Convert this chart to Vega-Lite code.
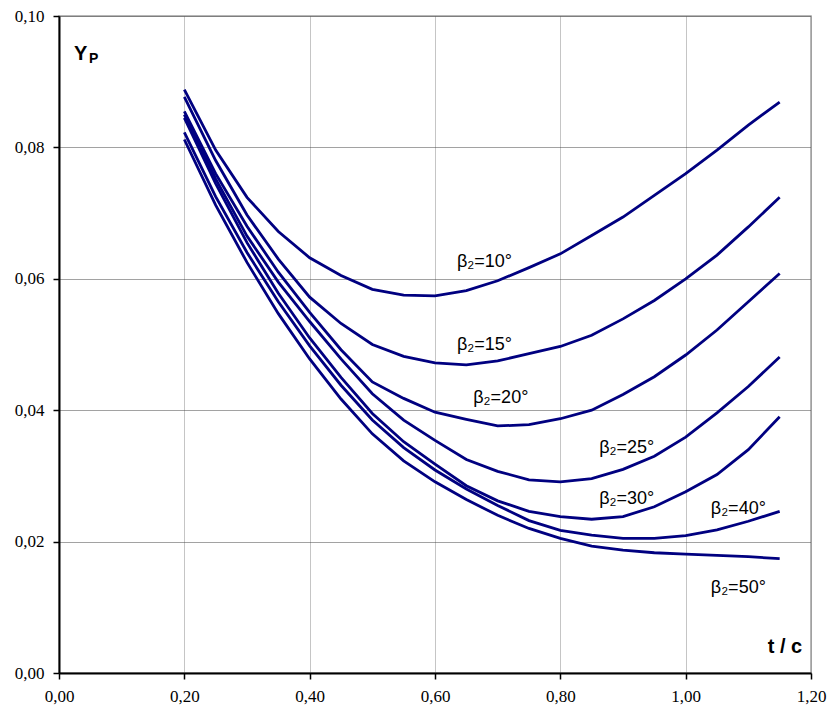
{
  "$schema": "https://vega.github.io/schema/vega-lite/v6.json",
  "width": 752,
  "height": 657,
  "autosize": {"type": "none"},
  "padding": {"left": 59, "top": 16, "right": 18, "bottom": 43},
  "background": "white",
  "config": {
    "view": {"stroke": "#a0a0a0", "strokeWidth": 1.5},
    "axis": {
      "labelFont": "Liberation Serif, DejaVu Serif, serif",
      "labelFontSize": 17,
      "labelColor": "black",
      "domainColor": "black",
      "domainWidth": 2,
      "tickColor": "black",
      "tickWidth": 1.5,
      "tickSize": 6,
      "title": null
    }
  },
  "datasets": {
    "curves": [
      {"b": "10", "x": 0.20, "y": 0.0888}, {"b": "10", "x": 0.25, "y": 0.0796}, {"b": "10", "x": 0.30, "y": 0.0724}, {"b": "10", "x": 0.35, "y": 0.0672}, {"b": "10", "x": 0.40, "y": 0.0632}, {"b": "10", "x": 0.45, "y": 0.0605}, {"b": "10", "x": 0.50, "y": 0.0584}, {"b": "10", "x": 0.55, "y": 0.0575}, {"b": "10", "x": 0.60, "y": 0.0574}, {"b": "10", "x": 0.65, "y": 0.0582}, {"b": "10", "x": 0.70, "y": 0.0597}, {"b": "10", "x": 0.75, "y": 0.0617}, {"b": "10", "x": 0.80, "y": 0.0638}, {"b": "10", "x": 0.85, "y": 0.0666}, {"b": "10", "x": 0.90, "y": 0.0694}, {"b": "10", "x": 0.95, "y": 0.0727}, {"b": "10", "x": 1.00, "y": 0.0760}, {"b": "10", "x": 1.05, "y": 0.0796}, {"b": "10", "x": 1.10, "y": 0.0834}, {"b": "10", "x": 1.15, "y": 0.0869},
      {"b": "15", "x": 0.20, "y": 0.0877}, {"b": "15", "x": 0.25, "y": 0.0780}, {"b": "15", "x": 0.30, "y": 0.0697}, {"b": "15", "x": 0.35, "y": 0.0630}, {"b": "15", "x": 0.40, "y": 0.0572}, {"b": "15", "x": 0.45, "y": 0.0532}, {"b": "15", "x": 0.50, "y": 0.0500}, {"b": "15", "x": 0.55, "y": 0.0482}, {"b": "15", "x": 0.60, "y": 0.0472}, {"b": "15", "x": 0.65, "y": 0.0469}, {"b": "15", "x": 0.70, "y": 0.0475}, {"b": "15", "x": 0.75, "y": 0.0486}, {"b": "15", "x": 0.80, "y": 0.0497}, {"b": "15", "x": 0.85, "y": 0.0514}, {"b": "15", "x": 0.90, "y": 0.0539}, {"b": "15", "x": 0.95, "y": 0.0567}, {"b": "15", "x": 1.00, "y": 0.0600}, {"b": "15", "x": 1.05, "y": 0.0636}, {"b": "15", "x": 1.10, "y": 0.0679}, {"b": "15", "x": 1.15, "y": 0.0724},
      {"b": "20", "x": 0.20, "y": 0.0855}, {"b": "20", "x": 0.25, "y": 0.0760}, {"b": "20", "x": 0.30, "y": 0.0680}, {"b": "20", "x": 0.35, "y": 0.0610}, {"b": "20", "x": 0.40, "y": 0.0549}, {"b": "20", "x": 0.45, "y": 0.0492}, {"b": "20", "x": 0.50, "y": 0.0443}, {"b": "20", "x": 0.55, "y": 0.0418}, {"b": "20", "x": 0.60, "y": 0.0397}, {"b": "20", "x": 0.65, "y": 0.0386}, {"b": "20", "x": 0.70, "y": 0.0376}, {"b": "20", "x": 0.75, "y": 0.0378}, {"b": "20", "x": 0.80, "y": 0.0387}, {"b": "20", "x": 0.85, "y": 0.0400}, {"b": "20", "x": 0.90, "y": 0.0424}, {"b": "20", "x": 0.95, "y": 0.0451}, {"b": "20", "x": 1.00, "y": 0.0484}, {"b": "20", "x": 1.05, "y": 0.0522}, {"b": "20", "x": 1.10, "y": 0.0565}, {"b": "20", "x": 1.15, "y": 0.0608},
      {"b": "25", "x": 0.20, "y": 0.0850}, {"b": "25", "x": 0.25, "y": 0.0752}, {"b": "25", "x": 0.30, "y": 0.0665}, {"b": "25", "x": 0.35, "y": 0.0595}, {"b": "25", "x": 0.40, "y": 0.0535}, {"b": "25", "x": 0.45, "y": 0.0478}, {"b": "25", "x": 0.50, "y": 0.0425}, {"b": "25", "x": 0.55, "y": 0.0385}, {"b": "25", "x": 0.60, "y": 0.0354}, {"b": "25", "x": 0.65, "y": 0.0325}, {"b": "25", "x": 0.70, "y": 0.0307}, {"b": "25", "x": 0.75, "y": 0.0294}, {"b": "25", "x": 0.80, "y": 0.0291}, {"b": "25", "x": 0.85, "y": 0.0296}, {"b": "25", "x": 0.90, "y": 0.0310}, {"b": "25", "x": 0.95, "y": 0.0330}, {"b": "25", "x": 1.00, "y": 0.0359}, {"b": "25", "x": 1.05, "y": 0.0396}, {"b": "25", "x": 1.10, "y": 0.0436}, {"b": "25", "x": 1.15, "y": 0.0481},
      {"b": "30", "x": 0.20, "y": 0.0845}, {"b": "30", "x": 0.25, "y": 0.0745}, {"b": "30", "x": 0.30, "y": 0.0655}, {"b": "30", "x": 0.35, "y": 0.0578}, {"b": "30", "x": 0.40, "y": 0.0510}, {"b": "30", "x": 0.45, "y": 0.0450}, {"b": "30", "x": 0.50, "y": 0.0395}, {"b": "30", "x": 0.55, "y": 0.0352}, {"b": "30", "x": 0.60, "y": 0.0318}, {"b": "30", "x": 0.65, "y": 0.0285}, {"b": "30", "x": 0.70, "y": 0.0262}, {"b": "30", "x": 0.75, "y": 0.0246}, {"b": "30", "x": 0.80, "y": 0.0238}, {"b": "30", "x": 0.85, "y": 0.0234}, {"b": "30", "x": 0.90, "y": 0.0238}, {"b": "30", "x": 0.95, "y": 0.0253}, {"b": "30", "x": 1.00, "y": 0.0276}, {"b": "30", "x": 1.05, "y": 0.0302}, {"b": "30", "x": 1.10, "y": 0.0340}, {"b": "30", "x": 1.15, "y": 0.0390},
      {"b": "40", "x": 0.20, "y": 0.0823}, {"b": "40", "x": 0.25, "y": 0.0725}, {"b": "40", "x": 0.30, "y": 0.0640}, {"b": "40", "x": 0.35, "y": 0.0565}, {"b": "40", "x": 0.40, "y": 0.0498}, {"b": "40", "x": 0.45, "y": 0.0438}, {"b": "40", "x": 0.50, "y": 0.0385}, {"b": "40", "x": 0.55, "y": 0.0343}, {"b": "40", "x": 0.60, "y": 0.0309}, {"b": "40", "x": 0.65, "y": 0.0280}, {"b": "40", "x": 0.70, "y": 0.0255}, {"b": "40", "x": 0.75, "y": 0.0232}, {"b": "40", "x": 0.80, "y": 0.0217}, {"b": "40", "x": 0.85, "y": 0.0210}, {"b": "40", "x": 0.90, "y": 0.0205}, {"b": "40", "x": 0.95, "y": 0.0205}, {"b": "40", "x": 1.00, "y": 0.0209}, {"b": "40", "x": 1.05, "y": 0.0218}, {"b": "40", "x": 1.10, "y": 0.0231}, {"b": "40", "x": 1.15, "y": 0.0246},
      {"b": "50", "x": 0.20, "y": 0.0812}, {"b": "50", "x": 0.25, "y": 0.0712}, {"b": "50", "x": 0.30, "y": 0.0625}, {"b": "50", "x": 0.35, "y": 0.0547}, {"b": "50", "x": 0.40, "y": 0.0478}, {"b": "50", "x": 0.45, "y": 0.0417}, {"b": "50", "x": 0.50, "y": 0.0364}, {"b": "50", "x": 0.55, "y": 0.0323}, {"b": "50", "x": 0.60, "y": 0.0291}, {"b": "50", "x": 0.65, "y": 0.0264}, {"b": "50", "x": 0.70, "y": 0.0240}, {"b": "50", "x": 0.75, "y": 0.0220}, {"b": "50", "x": 0.80, "y": 0.0205}, {"b": "50", "x": 0.85, "y": 0.0193}, {"b": "50", "x": 0.90, "y": 0.0187}, {"b": "50", "x": 0.95, "y": 0.0183}, {"b": "50", "x": 1.00, "y": 0.0181}, {"b": "50", "x": 1.05, "y": 0.0179}, {"b": "50", "x": 1.10, "y": 0.0177}, {"b": "50", "x": 1.15, "y": 0.0174}
    ],
    "labels": [
      {"label": "β₂=10°", "x": 0.679, "y": 0.0625},
      {"label": "β₂=15°", "x": 0.679, "y": 0.0500},
      {"label": "β₂=20°", "x": 0.705, "y": 0.0418},
      {"label": "β₂=25°", "x": 0.906, "y": 0.0342},
      {"label": "β₂=30°", "x": 0.906, "y": 0.0265},
      {"label": "β₂=40°", "x": 1.084, "y": 0.0249},
      {"label": "β₂=50°", "x": 1.084, "y": 0.0130}
    ],
    "titles": [
      {"t": "Y", "x": 0.024, "y": 0.0933, "size": 20},
      {"t": "P", "x": 0.048, "y": 0.0929, "size": 14}
    ],
    "xtitle": [
      {"t": "t / c", "x": 1.186, "y": 0.0030}
    ]
  },
  "layer": [
    {
      "data": {"name": "curves"},
      "mark": {"type": "line", "color": "#000080", "strokeWidth": 2.8, "clip": true},
      "encoding": {
        "x": {
          "field": "x", "type": "quantitative",
          "scale": {"domain": [0, 1.2], "nice": false, "zero": false},
          "axis": {
            "values": [0, 0.2, 0.4, 0.6, 0.8, 1.0, 1.2],
            "labelExpr": "replace(format(datum.value, '.2f'), '.', ',')",
            "grid": true, "gridColor": "#8a8a8a", "gridDash": [1, 1], "gridWidth": 1,
            "labelPadding": 9, "labelFlush": false
          }
        },
        "y": {
          "field": "y", "type": "quantitative",
          "scale": {"domain": [0, 0.1], "nice": false},
          "axis": {
            "values": [0, 0.02, 0.04, 0.06, 0.08, 0.1],
            "labelExpr": "replace(format(datum.value, '.2f'), '.', ',')",
            "grid": true, "gridColor": "#444444", "gridDash": [1, 1], "gridWidth": 1,
            "labelPadding": 9, "labelFlush": false
          }
        },
        "detail": {"field": "b", "type": "nominal"}
      }
    },
    {
      "data": {"name": "labels"},
      "mark": {"type": "text", "font": "Liberation Sans", "fontSize": 18, "color": "black", "align": "center", "baseline": "middle"},
      "encoding": {
        "x": {"field": "x", "type": "quantitative"},
        "y": {"field": "y", "type": "quantitative"},
        "text": {"field": "label"}
      }
    },
    {
      "data": {"name": "titles"},
      "mark": {"type": "text", "font": "Liberation Sans", "fontWeight": "bold", "color": "black", "align": "left", "baseline": "alphabetic"},
      "encoding": {
        "x": {"field": "x", "type": "quantitative"},
        "y": {"field": "y", "type": "quantitative"},
        "text": {"field": "t"},
        "size": {"field": "size", "type": "quantitative", "scale": null, "legend": null}
      }
    },
    {
      "data": {"name": "xtitle"},
      "mark": {"type": "text", "font": "Liberation Sans", "fontWeight": "bold", "fontSize": 20, "color": "black", "align": "right", "baseline": "alphabetic"},
      "encoding": {
        "x": {"field": "x", "type": "quantitative"},
        "y": {"field": "y", "type": "quantitative"},
        "text": {"field": "t"}
      }
    }
  ]
}
